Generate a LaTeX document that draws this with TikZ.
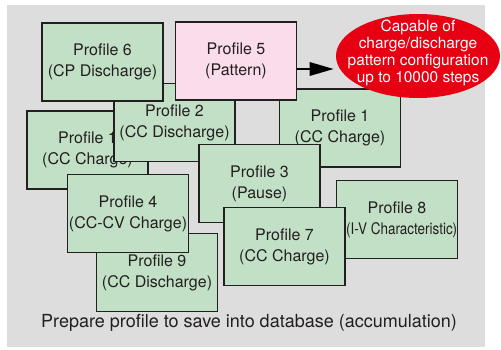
\documentclass[tikz,border=0pt]{standalone}
\usepackage{fontspec}
\setmainfont{TeX Gyre Heros}
\usepackage{xcolor}
\usepackage{tikz}
\usetikzlibrary{shapes.geometric,arrows.meta}

\definecolor{panelgray}{RGB}{220,221,220}
\definecolor{profgreen}{RGB}{194,224,198}
\definecolor{profpink}{RGB}{250,220,235}
\definecolor{capred}{RGB}{230,0,18}
\definecolor{edgedark}{RGB}{35,31,32}

\begin{document}
\begin{tikzpicture}[x=0.75pt,y=0.75pt,yscale=-1,xscale=1,
  profile/.style={draw=edgedark,line width=1.2pt,fill=profgreen,minimum width=90.75pt,minimum height=58.5pt,inner sep=0pt,align=center,text=edgedark,font=\fontsize{12}{15.75}\selectfont},
  pattern box/.style={profile,fill=profpink},
  capable/.style={ellipse,fill=capred,minimum width=123pt,minimum height=63pt,inner sep=0pt},
  capable text/.style={align=center,text=white,inner sep=0pt,font=\fontsize{11.6}{12.8}\selectfont},
  bigarrow/.style={draw=black,line width=1.5pt,-{Triangle[length=18pt,width=10pt]}}]
\useasboundingbox (0,0) rectangle (501,350);

%Shape: Rectangle [panel]
\fill [panelgray] (7,5) rectangle (485,347);

% Profiles, back to front
\node [profile] (prof1l) at (87.5,150) {Profile 1\\(CC Charge)};
\node [profile] (prof1r) at (340,128) {Profile 1\\(CC Charge)};
\node [profile] (prof9) at (157,272.5) {Profile 9\\(CC Discharge)};
\node [profile] (prof8) at (397,219.5) {Profile 8\\\hspace*{7pt}\scalebox{0.84}[1]{(I-V Characteristic)}};
\node [profile] (prof2) at (174.5,122.5) {Profile 2\\(CC Discharge)};
\node [profile] (prof6) at (102.5,62) {Profile 6\\(CP Discharge)};
\node [pattern box] (prof5) at (236,61) {Profile 5\\(Pattern)};
\node [profile] (prof3) at (259.5,183.5) {Profile 3\\(Pause)};
\node [profile] (prof4) at (128,213.5) {Profile 4\\(CC-CV Charge)};
\node [profile] (prof7) at (284.5,246.5) {Profile 7\\(CC Charge)};

% Ellipse Node
\node [capable] (steps) at (418,56) {};
\node [capable text] (stepstext) at (418,53) {Capable of\\charge/discharge\\pattern configuration\\up to 10000 steps};

%Straight Lines [arrow]
\draw [bigarrow,shorten >=1.5pt] ([yshift=6pt]prof5.east) -- ([yshift=6pt]prof5.east -| steps.west);

% Text Node
\node [text=edgedark,font=\fontsize{13.5}{16}\selectfont] (caption) at (249,323) {Prepare profile to save into database (accumulation)};

\end{tikzpicture}
\end{document}
